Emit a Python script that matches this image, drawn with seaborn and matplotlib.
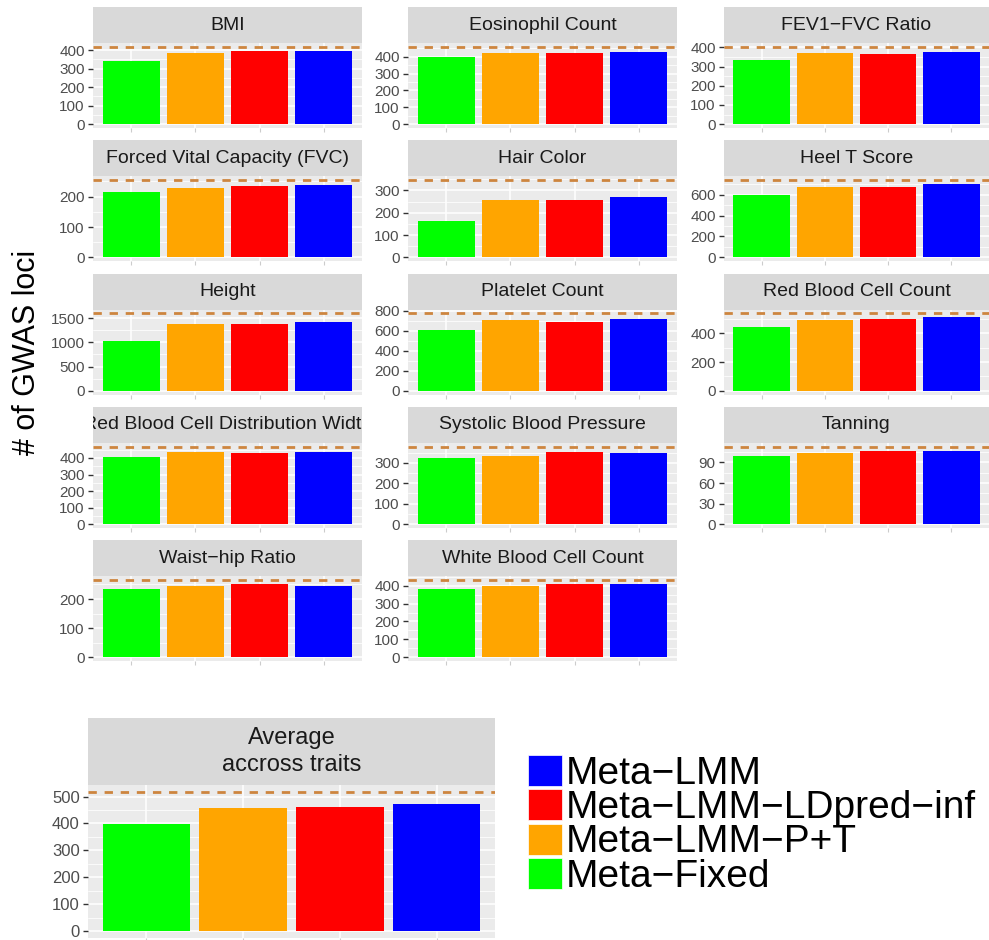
import matplotlib
matplotlib.use('Agg')
import matplotlib.pyplot as plt
from matplotlib.ticker import MultipleLocator
from matplotlib.patches import Patch
import pandas as pd
import seaborn as sns

# values
traits = ['BMI', 'Eosinophil Count', 'FEV1−FVC Ratio',
          'Forced Vital Capacity (FVC)', 'Hair Color', 'Heel T Score',
          'Height', 'Platelet Count', 'Red Blood Cell Count',
          'Red Blood Cell Distribution Width', 'Systolic Blood Pressure', 'Tanning',
          'Waist−hip Ratio', 'White Blood Cell Count']
meta_fixed = [343, 400, 337, 216, 162, 600, 1018, 612, 448, 404, 323, 99, 236, 383]
meta_pt = [386, 423, 373, 229, 259, 675, 1385, 711, 497, 434, 332, 104, 246, 400]
meta_ldpred = [396, 423, 368, 236, 259, 675, 1385, 691, 503, 428, 352, 107, 250, 411]
meta_lmm = [396, 429, 378, 239, 272, 704, 1425, 721, 517, 434, 347, 107, 246, 411]
gwas_loci = [418, 458, 403, 254, 346, 738, 1595, 774, 540, 468, 379, 113, 265, 431]
y_steps = [100, 100, 100, 100, 100, 200, 500, 200, 200, 100, 100, 30, 100, 100]

avg_title = 'Average\naccross traits'
avg_values = [397, 458, 462, 472]
avg_gwas = 517
avg_step = 100

methods = ['Meta−Fixed', 'Meta−LMM−P+T', 'Meta−LMM−LDpred−inf', 'Meta−LMM']
colors = ['#00FF00', '#FFA500', '#FF0000', '#0000FF']
palette = dict(zip(methods, colors))

rows = []
for i, t in enumerate(traits):
    for m, v in zip(methods, [meta_fixed[i], meta_pt[i], meta_ldpred[i], meta_lmm[i]]):
        rows.append({'trait': t, 'method': m, 'loci': v})
df = pd.DataFrame(rows)
avg_df = pd.DataFrame({'method': methods, 'loci': avg_values})

sns.set_style('white')
plt.rcParams['font.family'] = ['Liberation Sans', 'DejaVu Sans']

W, H = 989, 940
fig = plt.figure(figsize=(W / 100, H / 100), dpi=100)


def rect(x0, y0, w, h):
    return [x0 / W, 1 - (y0 + h) / H, w / W, h / H]


def facet(panel, strip, title, data, hline, step, title_size=14, tick_size=11, linespacing=1.2):
    ax = fig.add_axes(rect(*panel))
    sns.barplot(data=data, x='method', y='loci', hue='method', order=methods,
                hue_order=methods, palette=palette, width=0.9, saturation=1,
                legend=False, linewidth=0, ax=ax)
    ax.axhline(hline, color='#CD853F', lw=2.0, ls=(0, (3, 2.8)))
    ax.set_facecolor('#EBEBEB')
    for s in ax.spines.values():
        s.set_visible(False)
    ax.set_xlim(-0.6, 3.6)
    ax.set_ylim(-0.05 * hline, 1.05 * hline)
    ax.yaxis.set_major_locator(MultipleLocator(step))
    ax.yaxis.set_minor_locator(MultipleLocator(step / 2))
    ax.set_xticks(range(4))
    ax.set_xticklabels([])
    ax.set_axisbelow(True)
    ax.grid(which='major', color='white', lw=1.1)
    ax.grid(which='minor', axis='y', color='white', lw=0.55)
    ax.tick_params(axis='y', which='major', length=3.5, width=1, color='#333333',
                   labelsize=tick_size, labelcolor='#4D4D4D', pad=2.5, left=True)
    ax.tick_params(axis='y', which='minor', length=0)
    ax.tick_params(axis='x', length=3, width=0.8, color='#CCCCCC', bottom=True)
    ax.set_xlabel('')
    ax.set_ylabel('')

    sax = fig.add_axes(rect(*strip))
    sax.set_facecolor('#D9D9D9')
    sax.set_xticks([])
    sax.set_yticks([])
    for s in sax.spines.values():
        s.set_visible(False)
    sax.text(0.5, 0.5, title, ha='center', va='center', transform=sax.transAxes,
             fontsize=title_size, color='#1A1A1A', clip_on=True, linespacing=linespacing)
    return ax


col_x = [93, 408, 724]
col_w = [269, 269, 265]
for i, t in enumerate(traits):
    r, c = divmod(i, 3)
    top = 7 + 133.3 * r
    facet((col_x[c], top + 36, col_w[c], 85), (col_x[c], top, col_w[c], 36), t,
          df[df['trait'] == t], gwas_loci[i], y_steps[i])

facet((88, 785, 407, 153), (88, 718, 407, 67), avg_title, avg_df, avg_gwas, avg_step,
      title_size=17, tick_size=12, linespacing=1.3)

fig.text(27 / W, 1 - 352 / H, '# of GWAS loci', rotation=90, fontsize=22,
         ha='center', va='center', color='black')

handles = [Patch(facecolor=palette[m], edgecolor='white', lw=0.5, label=m) for m in reversed(methods)]
leg = fig.legend(handles=handles, loc='upper left', bbox_to_anchor=(528 / W, 1 - 755 / H),
                 frameon=False, fontsize=28, handlelength=0.87, handleheight=0.85,
                 handletextpad=0.1, labelspacing=-0.07, borderpad=0, borderaxespad=0)
for txt in leg.get_texts():
    txt.set_color('black')

fig.savefig('out.png', dpi=100)
